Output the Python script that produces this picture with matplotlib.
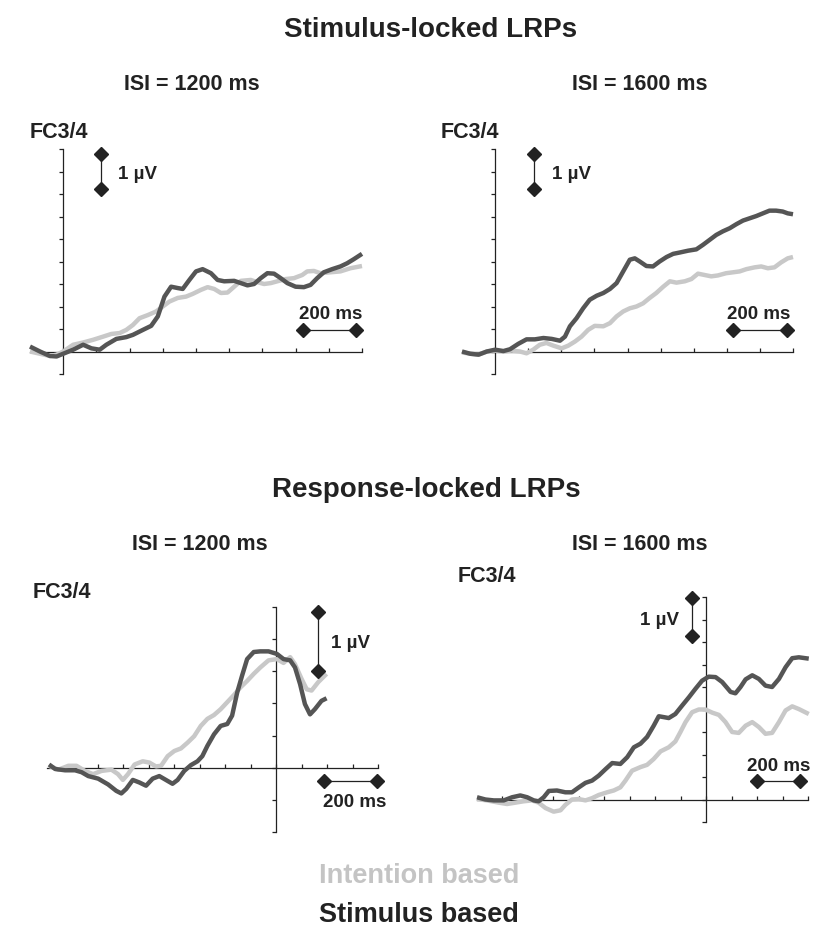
import numpy as np
import matplotlib.pyplot as plt

plt.rcParams['font.family'] = ['Liberation Sans', 'DejaVu Sans']
plt.rcParams['font.weight'] = 'bold'

DARK = '#555555'
LIGHT = '#c8c8c8'
INK = '#222222'

# ---- stimulus-locked, ISI = 1200 ms (time in ms, amplitude in µV)
s1200_stim_t = [-100, -70, -40, -20, 0, 30, 60, 85, 110, 130, 160, 190, 210, 240, 265, 285, 305, 325,
                345, 360, 380, 400, 420, 445, 465, 485, 515, 535, 555, 575, 595, 615, 635, 655, 675,
                700, 725, 745, 765, 785, 810, 835, 855, 875, 900]
s1200_stim_v = [0.11, 0, -0.10, -0.11, -0.05, 0.04, 0.15, 0.07, 0.04, 0.15, 0.28, 0.32, 0.37, 0.48, 0.57,
                0.78, 1.22, 1.44, 1.41, 1.39, 1.59, 1.78, 1.83, 1.74, 1.59, 1.56, 1.57, 1.52, 1.47, 1.50,
                1.63, 1.74, 1.73, 1.63, 1.52, 1.44, 1.43, 1.48, 1.63, 1.76, 1.83, 1.89, 1.96, 2.05, 2.17]
s1200_int_t = [-100, -70, -40, -20, 0, 30, 60, 90, 120, 145, 170, 190, 210, 230, 255, 280, 300, 320, 345,
               370, 390, 415, 435, 455, 475, 495, 515, 535, 565, 585, 605, 625, 645, 670, 695, 720, 735,
               755, 775, 805, 835, 865, 900]
s1200_int_v = [0, -0.05, -0.10, -0.07, 0, 0.15, 0.20, 0.26, 0.33, 0.39, 0.41, 0.48, 0.59, 0.74, 0.81, 0.89,
               1.00, 1.11, 1.19, 1.22, 1.28, 1.37, 1.43, 1.39, 1.30, 1.31, 1.44, 1.57, 1.59, 1.54, 1.50,
               1.52, 1.56, 1.61, 1.63, 1.70, 1.78, 1.79, 1.74, 1.76, 1.78, 1.85, 1.90]

# ---- stimulus-locked, ISI = 1600 ms
s1600_stim_t = [-100, -75, -50, -25, 0, 25, 45, 70, 95, 120, 146, 171, 196, 211, 226, 246, 266, 286, 307,
                327, 347, 367, 387, 407, 422, 437, 457, 477, 497, 518, 538, 558, 583, 608, 628, 648, 668,
                688, 709, 729, 749, 769, 789, 809, 829, 849, 869, 884, 900]
s1600_stim_v = [0, -0.05, -0.07, 0, 0.04, 0.01, 0.05, 0.17, 0.27, 0.27, 0.30, 0.28, 0.24, 0.33, 0.56, 0.74,
                0.96, 1.15, 1.24, 1.30, 1.39, 1.52, 1.78, 2.04, 2.07, 2.00, 1.90, 1.89, 2.00, 2.10, 2.17,
                2.20, 2.24, 2.27, 2.37, 2.48, 2.59, 2.67, 2.74, 2.83, 2.91, 2.96, 3.01, 3.07, 3.13, 3.13,
                3.11, 3.07, 3.05]
s1600_int_t = [-100, -75, -50, -25, 0, 25, 50, 75, 95, 115, 135, 155, 176, 201, 221, 241, 261, 281, 301,
               327, 347, 367, 387, 407, 427, 447, 467, 487, 508, 528, 548, 573, 593, 613, 633, 653, 673,
               698, 719, 739, 759, 784, 804, 824, 844, 864, 884, 900]
s1600_int_v = [-0.02, -0.05, -0.07, 0, 0.02, 0, 0.02, 0, -0.04, 0.04, 0.15, 0.19, 0.13, 0.07, 0.13, 0.22,
               0.33, 0.48, 0.57, 0.56, 0.63, 0.78, 0.89, 0.96, 1.00, 1.07, 1.19, 1.30, 1.44, 1.56, 1.53,
               1.56, 1.61, 1.73, 1.70, 1.67, 1.69, 1.74, 1.76, 1.78, 1.83, 1.87, 1.89, 1.85, 1.87, 1.98,
               2.07, 2.10]

# ---- response-locked, ISI = 1200 ms
r1200_stim_t = [-892, -868, -829, -790, -764, -738, -699, -660, -628, -608, -589, -563, -537, -511, -485,
                -459, -433, -407, -387, -361, -335, -309, -290, -270, -244, -218, -192, -173, -153, -134,
                -114, -88, -62, -30, 3, 29, 55, 74, 94, 113, 133, 152, 178, 198]
r1200_stim_v = [0.05, -0.02, -0.04, -0.04, -0.07, -0.13, -0.17, -0.26, -0.36, -0.40, -0.33, -0.19, -0.23,
                -0.28, -0.17, -0.13, -0.19, -0.25, -0.19, -0.05, 0.04, 0.10, 0.18, 0.34, 0.52, 0.65, 0.68,
                0.81, 1.17, 1.43, 1.69, 1.80, 1.81, 1.81, 1.77, 1.69, 1.67, 1.56, 1.30, 0.99, 0.83, 0.91,
                1.04, 1.08]
r1200_int_t = [-892, -855, -816, -784, -751, -719, -686, -647, -621, -602, -582, -556, -524, -498, -472,
               -452, -426, -400, -374, -348, -322, -296, -270, -244, -218, -192, -166, -140, -114, -88,
               -62, -30, 3, 29, 55, 74, 100, 120, 139, 165, 198]
r1200_int_v = [0.03, -0.03, 0.03, 0.03, -0.05, -0.10, -0.05, -0.03, -0.10, -0.19, -0.10, 0.05, 0.10, 0.08,
               0.02, 0.03, 0.18, 0.26, 0.30, 0.39, 0.49, 0.65, 0.76, 0.82, 0.91, 1.02, 1.13, 1.25, 1.35,
               1.46, 1.56, 1.67, 1.69, 1.63, 1.72, 1.61, 1.38, 1.22, 1.20, 1.33, 1.46]

# ---- response-locked, ISI = 1600 ms
r1600_stim_t = [-900, -867, -834, -795, -762, -730, -703, -677, -658, -638, -618, -586, -553, -527, -500,
                -474, -448, -422, -396, -369, -337, -310, -284, -258, -232, -206, -186, -166, -147, -121,
                -94, -68, -42, -16, 10, 37, 63, 96, 115, 135, 155, 181, 207, 233, 259, 286, 312, 338,
                364, 403]
r1600_stim_v = [0.05, 0, -0.02, -0.02, 0.05, 0.09, 0.05, -0.02, -0.04, 0.05, 0.19, 0.20, 0.16, 0.16, 0.27,
                0.37, 0.42, 0.53, 0.67, 0.81, 0.79, 0.94, 1.16, 1.24, 1.39, 1.64, 1.85, 1.83, 1.81, 1.90,
                2.09, 2.27, 2.46, 2.64, 2.73, 2.72, 2.61, 2.39, 2.36, 2.50, 2.67, 2.76, 2.68, 2.53, 2.50,
                2.68, 2.94, 3.14, 3.16, 3.13]
r1600_int_t = [-900, -861, -815, -782, -749, -717, -684, -658, -631, -599, -572, -553, -527, -500, -474,
               -448, -422, -389, -363, -337, -317, -291, -258, -232, -206, -179, -147, -121, -101, -81,
               -55, -29, -3, 24, 50, 76, 102, 128, 155, 181, 207, 233, 259, 286, 312, 338, 364, 403]
r1600_int_v = [0.01, -0.02, -0.07, -0.10, -0.07, -0.04, -0.02, -0.07, -0.19, -0.27, -0.24, -0.12, 0, 0.01,
               -0.02, 0.03, 0.10, 0.16, 0.20, 0.27, 0.42, 0.64, 0.72, 0.77, 0.90, 1.07, 1.16, 1.29, 1.50,
               1.72, 1.94, 2.00, 2.00, 1.93, 1.88, 1.72, 1.50, 1.48, 1.64, 1.72, 1.61, 1.46, 1.48, 1.72,
               1.98, 2.07, 2.01, 1.90]

W, H = 817, 929
fig = plt.figure(figsize=(W / 100, H / 100), dpi=100)


def frac(x, y):
    return x / W, 1 - y / H


def make_panel(box, xlim, ylim, xticks, yticks):
    # box = (left, top, right, bottom) in pixels
    l, t, r, b = box
    ax = fig.add_axes([l / W, 1 - b / H, (r - l) / W, (b - t) / H])
    ax.set_xlim(xlim)
    ax.set_ylim(ylim)
    for s in ['top', 'right']:
        ax.spines[s].set_visible(False)
    ax.spines['left'].set_position(('data', 0))
    ax.spines['bottom'].set_position(('data', 0))
    for s in ['left', 'bottom']:
        ax.spines[s].set_color(INK)
        ax.spines[s].set_linewidth(0.9)
    ax.set_xticks(xticks)
    ax.set_yticks(yticks)
    ax.tick_params(axis='x', direction='in', length=3.2, width=0.9, color=INK, labelbottom=False)
    ax.tick_params(axis='y', direction='out', length=3.2, width=0.9, color=INK, labelleft=False)
    ax.patch.set_visible(False)
    return ax


def scale_bars(ax, vx, vy0, vy1, vlab, hx0, hx1, hy, hlab):
    ax.plot([vx, vx], [vy0, vy1], color=INK, lw=0.9, marker='D', ms=7.5, clip_on=False, zorder=5)
    ax.plot([hx0, hx1], [hy, hy], color=INK, lw=0.9, marker='D', ms=7.5, clip_on=False, zorder=5)
    ax.text(*vlab[0], vlab[1], fontsize=13.5, color=INK, ha=vlab[2], va='center', fontweight='bold')
    ax.text(*hlab[0], hlab[1], fontsize=13.5, color=INK, ha='center', va='center', fontweight='bold')


def curves(ax, it, iv, st, sv):
    ax.plot(it, iv, color=LIGHT, lw=3.2, solid_capstyle='butt', clip_on=False, zorder=3)
    ax.plot(st, sv, color=DARK, lw=3.2, solid_capstyle='butt', clip_on=False, zorder=4)


stim_xt = list(range(0, 901, 100))
stim_yt = list(np.arange(-0.5, 4.51, 0.5))

ax1 = make_panel((30, 150, 362, 375), (-100, 900), (-0.5, 4.5), stim_xt, stim_yt)
curves(ax1, s1200_int_t, s1200_int_v, s1200_stim_t, s1200_stim_v)
scale_bars(ax1, 114, 4.39, 3.61, ((166, 3.96), '1 µV', 'left'),
           721, 882, 0.48, ((806, 0.85), '200 ms'))

ax2 = make_panel((462, 150, 793, 375), (-100, 900), (-0.5, 4.5), stim_xt, stim_yt)
curves(ax2, s1600_int_t, s1600_int_v, s1600_stim_t, s1600_stim_v)
scale_bars(ax2, 119, 4.39, 3.61, ((171, 3.96), '1 µV', 'left'),
           719, 881, 0.48, ((797, 0.85), '200 ms'))

resp_xt = list(range(-800, 401, 100))

ax3 = make_panel((47, 608, 378, 833), (-900, 400), (-1.0, 2.5), resp_xt, list(np.arange(-1.0, 2.51, 0.5)))
curves(ax3, r1200_int_t, r1200_int_v, r1200_stim_t, r1200_stim_v)
scale_bars(ax3, 165, 2.42, 1.51, ((217, 1.95), '1 µV', 'left'),
           189, 395, -0.21, ((308, -0.52), '200 ms'))

ax4 = make_panel((477, 598, 808, 823), (-900, 400), (-0.5, 4.5), resp_xt, stim_yt)
curves(ax4, r1600_int_t, r1600_int_v, r1600_stim_t, r1600_stim_v)
scale_bars(ax4, -55, 4.47, 3.64, ((-105, 4.01), '1 µV', 'right'),
           200, 368, 0.41, ((286, 0.76), '200 ms'))

# headings
fig.text(*frac(431, 30), 'Stimulus-locked LRPs', fontsize=20, color=INK, ha='center', va='center')
fig.text(*frac(426, 490), 'Response-locked LRPs', fontsize=20, color=INK, ha='center', va='center')
for x, y, s in [(192, 84, 'ISI = 1200 ms'), (640, 84, 'ISI = 1600 ms'),
                (200, 545, 'ISI = 1200 ms'), (640, 545, 'ISI = 1600 ms')]:
    fig.text(*frac(x, y), s, fontsize=15.5, color=INK, ha='center', va='center')
for x, y in [(30, 133), (441, 133), (33, 593), (458, 577)]:
    fig.text(*frac(x, y), 'FC3/4', fontsize=15.5, color=INK, ha='left', va='center')

# legend
fig.text(*frac(419, 876), 'Intention based', fontsize=19.5, color='#c4c4c4', ha='center', va='center')
fig.text(*frac(419, 915), 'Stimulus based', fontsize=19.5, color=INK, ha='center', va='center')

fig.savefig('out.png', dpi=100)
